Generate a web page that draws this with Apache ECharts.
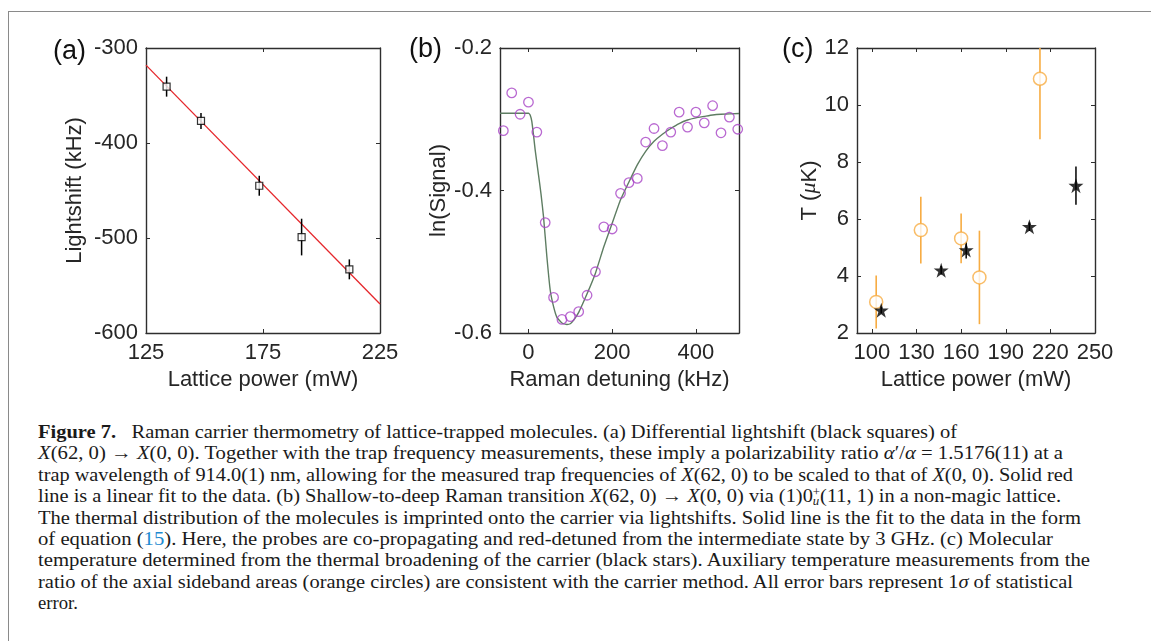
<!DOCTYPE html>
<html>
<head>
<meta charset="utf-8">
<script src="https://cdn.jsdelivr.net/npm/echarts@6/dist/echarts.min.js"></script>
<style>
  html, body { margin: 0; padding: 0; background: #fff; }
  body { width: 1151px; height: 641px; position: relative; overflow: hidden; }
  #frame { position: absolute; left: 8px; top: 11px; width: 1160px; height: 650px;
           border-top: 1.5px solid #8a8a8a; border-left: 1.5px solid #8a8a8a; }
  #chart { position: absolute; left: 0; top: 0; width: 1151px; height: 400px; }
  #caption { position: absolute; left: 38px; top: 421px; font-family: 'Liberation Serif', 'DejaVu Serif', serif;
             font-size: 19px; line-height: 21.4px; color: #1a1a1a; }
  #caption .ln { white-space: nowrap; height: 21.4px; }
  #caption .ln span.t { display: inline-block; transform-origin: 0 50%; }
  #caption i { font-style: italic; }
  .ref { color: #1d8ad0; }
  .su { display: inline-block; vertical-align: -3px; line-height: 9px; font-size: 12px; text-align: left; }
</style>
</head>
<body>
<div id="frame"></div>
<div id="chart"></div>
<div id="caption">
  <div class="ln" data-w="919"><span class="t"><b>Figure 7.</b>&nbsp;&nbsp; Raman carrier thermometry of lattice-trapped molecules. (a) Differential lightshift (black squares) of</span></div>
  <div class="ln" data-w="1025"><span class="t"><i>X</i>(62, 0) → <i>X</i>(0, 0). Together with the trap frequency measurements, these imply a polarizability ratio <i>α</i>′/<i>α</i> = 1.5176(11) at a</span></div>
  <div class="ln" data-w="1035"><span class="t">trap wavelength of 914.0(1) nm, allowing for the measured trap frequencies of <i>X</i>(62, 0) to be scaled to that of <i>X</i>(0, 0). Solid red</span></div>
  <div class="ln" data-w="1023"><span class="t">line is a linear fit to the data. (b) Shallow-to-deep Raman transition <i>X</i>(62, 0) → <i>X</i>(0, 0) via (1)0<span class="su">+<br><i>u</i></span>(11, 1) in a non-magic lattice.</span></div>
  <div class="ln" data-w="1043"><span class="t">The thermal distribution of the molecules is imprinted onto the carrier via lightshifts. Solid line is the fit to the data in the form</span></div>
  <div class="ln" data-w="1015"><span class="t">of equation (<span class="ref">15</span>). Here, the probes are co-propagating and red-detuned from the intermediate state by 3 GHz. (c) Molecular</span></div>
  <div class="ln" data-w="1052"><span class="t">temperature determined from the thermal broadening of the carrier (black stars). Auxiliary temperature measurements from the</span></div>
  <div class="ln" data-w="1035"><span class="t">ratio of the axial sideband areas (orange circles) are consistent with the carrier method. All error bars represent 1<i>σ</i> of statistical</span></div>
  <div class="ln" data-w="40"><span class="t">error.</span></div>
</div>
<script>
  // (a) differential lightshift vs lattice power
  var aPower = [133.8, 148.5, 173.4, 191.5, 211.9]
  var aShift = [-340.7, -376.8, -445, -499, -533]
  var aErr = [10.5, 8.4, 10.5, 19.3, 10.5]
  var aFitX = [125, 225]
  var aFitY = [-318, -569.5]

  // (b) ln(signal) vs raman detuning
  var bDet = [-60, -40, -20, 0, 20, 40, 60, 80, 100, 120, 140, 160, 180, 200, 220, 240, 260, 280, 300, 320, 340, 360, 380, 400, 420, 440, 460, 480, 500]
  var bSig = [-0.316, -0.263, -0.293, -0.276, -0.318, -0.445, -0.550, -0.581, -0.577, -0.570, -0.547, -0.514, -0.451, -0.454,
    -0.404, -0.389, -0.383, -0.332, -0.313, -0.337, -0.318, -0.290, -0.311, -0.290, -0.305, -0.281, -0.319, -0.297, -0.314]
  var bFitX = [-68, 0, 4, 8, 12, 16, 24, 30, 36, 44, 52, 60, 68, 80, 92, 100, 108, 120, 140, 160, 180, 200, 220, 240, 260,
    280, 300, 320, 340, 360, 380, 400, 420, 440, 460, 503]
  var bFitY = [-0.2916, -0.2916, -0.294, -0.303, -0.322, -0.343, -0.378, -0.405, -0.437, -0.493, -0.540, -0.563, -0.578, -0.586,
    -0.588, -0.587, -0.582, -0.571, -0.545, -0.516, -0.479, -0.446, -0.413, -0.388, -0.364, -0.345, -0.331, -0.321, -0.313,
    -0.306, -0.301, -0.298, -0.296, -0.294, -0.293, -0.292]

  // (c) temperature vs lattice power
  var cOrX = [102.9, 132.9, 160, 172.3, 213]
  var cOrY = [3.09, 5.61, 5.32, 3.95, 10.92]
  var cOrErr = [0.93, 1.17, 0.87, 1.64, 2.12]
  var cStX = [106.3, 146.6, 163.4, 205.9, 237.2]
  var cStY = [2.80, 4.20, 4.91, 5.73, 7.17]
  var cStErr = [0.12, 0.15, 0.3, 0.15, 0.67]

  var aTicksX = [125, 175, 225]
  var bTicksX = [0, 200, 400]
  var cTicksX = [100, 130, 160, 190, 220, 250]

  var FONT = 'Liberation Sans'
  var AXC = '#2e2e2e'
  var STAR = 'path://M50,0 L61.2,34.5 L97.6,34.5 L68.2,55.9 L79.4,90.5 L50,69.1 L20.6,90.5 L31.8,55.9 L2.4,34.5 L38.8,34.5 Z'

  function zip(xs, ys) {
    return xs.map(function(x, i) { return [x, ys[i]] })
  }
  function zip3(xs, ys, es) {
    return xs.map(function(x, i) { return [x, ys[i], es[i]] })
  }

  function errBars(idx, data, color, width) {
    return {
      type: 'custom',
      xAxisIndex: idx,
      yAxisIndex: idx,
      clip: true,
      silent: true,
      z: 2,
      data: data,
      renderItem: function(params, api) {
        var x = api.value(0)
        var y = api.value(1)
        var e = api.value(2)
        var p1 = api.coord([x, y - e])
        var p2 = api.coord([x, y + e])
        return {
          type: 'line',
          shape: { x1: p1[0], y1: p1[1], x2: p2[0], y2: p2[1] },
          style: { stroke: color, lineWidth: width }
        }
      }
    }
  }

  function xAx(gi, min, max, name, ticks, interval) {
    var ax = {
      type: 'value', gridIndex: gi, position: 'bottom', min: min, max: max,
      name: name, nameLocation: 'middle', nameGap: 36,
      nameTextStyle: { fontFamily: FONT, fontSize: 22, color: '#262626' },
      axisLine: { show: true, onZero: false, lineStyle: { color: AXC, width: 1.4 } },
      axisTick: { show: true, inside: true, length: 4, lineStyle: { color: AXC, width: 1 } },
      axisLabel: { show: true, margin: 9, fontFamily: FONT, fontSize: 22, color: '#262626' },
      splitLine: { show: false }
    }
    if (interval) {
      ax.interval = interval
    } else {
      ax.axisTick.customValues = ticks
      ax.axisLabel.customValues = ticks
    }
    return ax
  }
  function xMirror(gi, min, max, ticks, interval) {
    var ax = {
      type: 'value', gridIndex: gi, position: 'top', min: min, max: max,
      axisLine: { show: true, onZero: false, lineStyle: { color: AXC, width: 1.4 } },
      axisTick: { show: true, inside: true, length: 4, lineStyle: { color: AXC, width: 1 } },
      axisLabel: { show: false },
      splitLine: { show: false }
    }
    if (interval) {
      ax.interval = interval
    } else {
      ax.axisTick.customValues = ticks
      ax.axisLabel.customValues = ticks
    }
    return ax
  }
  function yAx(gi, min, max, interval, name, gap, fmt) {
    return {
      type: 'value', gridIndex: gi, position: 'left', min: min, max: max, interval: interval,
      name: name, nameLocation: 'middle', nameGap: gap, nameRotate: 90,
      nameTextStyle: {
        fontFamily: FONT, fontSize: 22, color: '#262626',
        rich: { i: { fontFamily: 'Liberation Serif', fontStyle: 'italic', fontSize: 22, color: '#262626' } }
      },
      axisLine: { show: true, onZero: false, lineStyle: { color: AXC, width: 1.4 } },
      axisTick: { show: true, inside: true, length: 4, lineStyle: { color: AXC, width: 1 } },
      axisLabel: { show: true, margin: 8, fontFamily: FONT, fontSize: 22, color: '#262626', formatter: fmt },
      splitLine: { show: false }
    }
  }
  function yMirror(gi, min, max, interval) {
    return {
      type: 'value', gridIndex: gi, position: 'right', min: min, max: max, interval: interval,
      axisLine: { show: true, onZero: false, lineStyle: { color: AXC, width: 1.4 } },
      axisTick: { show: true, inside: true, length: 4, lineStyle: { color: AXC, width: 1 } },
      axisLabel: { show: false },
      splitLine: { show: false }
    }
  }

  var myChart = echarts.init(document.getElementById('chart'), null, { renderer: 'canvas' })
  var option = {
    animation: false,
    backgroundColor: 'transparent',
    grid: [
      { left: 146, top: 48, width: 234, height: 285 },
      { left: 500, top: 48, width: 239, height: 285 },
      { left: 857, top: 48, width: 238, height: 285 }
    ],
    graphic: [
      { type: 'text', left: 53, top: 38, style: { text: '(a)', font: '27px "Liberation Sans"', fill: '#111' } },
      { type: 'text', left: 409, top: 36, style: { text: '(b)', font: '27px "Liberation Sans"', fill: '#111' } },
      { type: 'text', left: 782, top: 36, style: { text: '(c)', font: '27px "Liberation Sans"', fill: '#111' } }
    ],
    xAxis: [
      xAx(0, 125, 225, 'Lattice power (mW)', aTicksX, 50),
      xAx(1, -68, 503, 'Raman detuning (kHz)', bTicksX),
      xAx(2, 90, 250, 'Lattice power (mW)', cTicksX),
      xMirror(0, 125, 225, aTicksX, 50),
      xMirror(1, -68, 503, bTicksX),
      xMirror(2, 90, 250, cTicksX)
    ],
    yAxis: [
      yAx(0, -600, -300, 100, 'Lightshift (kHz)', 60),
      yAx(1, -0.6, -0.2, 0.2, 'ln(Signal)', 49, function(v) { return v.toFixed(1) }),
      yAx(2, 2, 12, 2, 'T ({i|μ}K)', 31),
      yMirror(0, -600, -300, 100),
      yMirror(1, -0.6, -0.2, 0.2),
      yMirror(2, 2, 12, 2)
    ],
    series: [
      {
        type: 'line', xAxisIndex: 0, yAxisIndex: 0, data: zip(aFitX, aFitY),
        showSymbol: false, lineStyle: { color: '#e5262b', width: 1.3 }, z: 1, silent: true
      },
      errBars(0, zip3(aPower, aShift, aErr), '#000', 1.5),
      {
        type: 'scatter', xAxisIndex: 0, yAxisIndex: 0, data: zip(aPower, aShift),
        symbol: 'rect', symbolSize: 7, z: 3,
        itemStyle: { color: '#fff', borderColor: '#000', borderWidth: 1.2 }
      },
      {
        type: 'line', xAxisIndex: 1, yAxisIndex: 1, data: zip(bFitX, bFitY),
        showSymbol: false, smooth: 0.15, lineStyle: { color: '#5e7d62', width: 1.4 }, z: 1, silent: true
      },
      {
        type: 'scatter', xAxisIndex: 1, yAxisIndex: 1, data: zip(bDet, bSig),
        symbol: 'circle', symbolSize: 9.5, z: 3,
        itemStyle: { color: 'rgba(0,0,0,0)', borderColor: '#a844c6', borderWidth: 1.3 }
      },
      errBars(2, zip3(cOrX, cOrY, cOrErr), '#f7ac42', 1.6),
      {
        type: 'scatter', xAxisIndex: 2, yAxisIndex: 2, data: zip(cOrX, cOrY),
        symbol: 'circle', symbolSize: 13, z: 3,
        itemStyle: { color: '#fff', borderColor: '#f7ac42', borderWidth: 1.5 }
      },
      errBars(2, zip3(cStX, cStY, cStErr), '#000', 1.5),
      {
        type: 'scatter', xAxisIndex: 2, yAxisIndex: 2, data: zip(cStX, cStY),
        symbol: STAR, symbolSize: 15, z: 4,
        itemStyle: { color: '#000' }
      }
    ]
  }
  myChart.setOption(option)

  // stretch each caption line to the width it has in the figure
  var lines = document.querySelectorAll('#caption .ln')
  for (var i = 0; i < lines.length; i++) {
    var t = lines[i].querySelector('span.t')
    var w = t.getBoundingClientRect().width
    var target = parseFloat(lines[i].getAttribute('data-w'))
    t.style.transform = 'scaleX(' + (target / w) + ')'
  }
</script>
</body>
</html>
